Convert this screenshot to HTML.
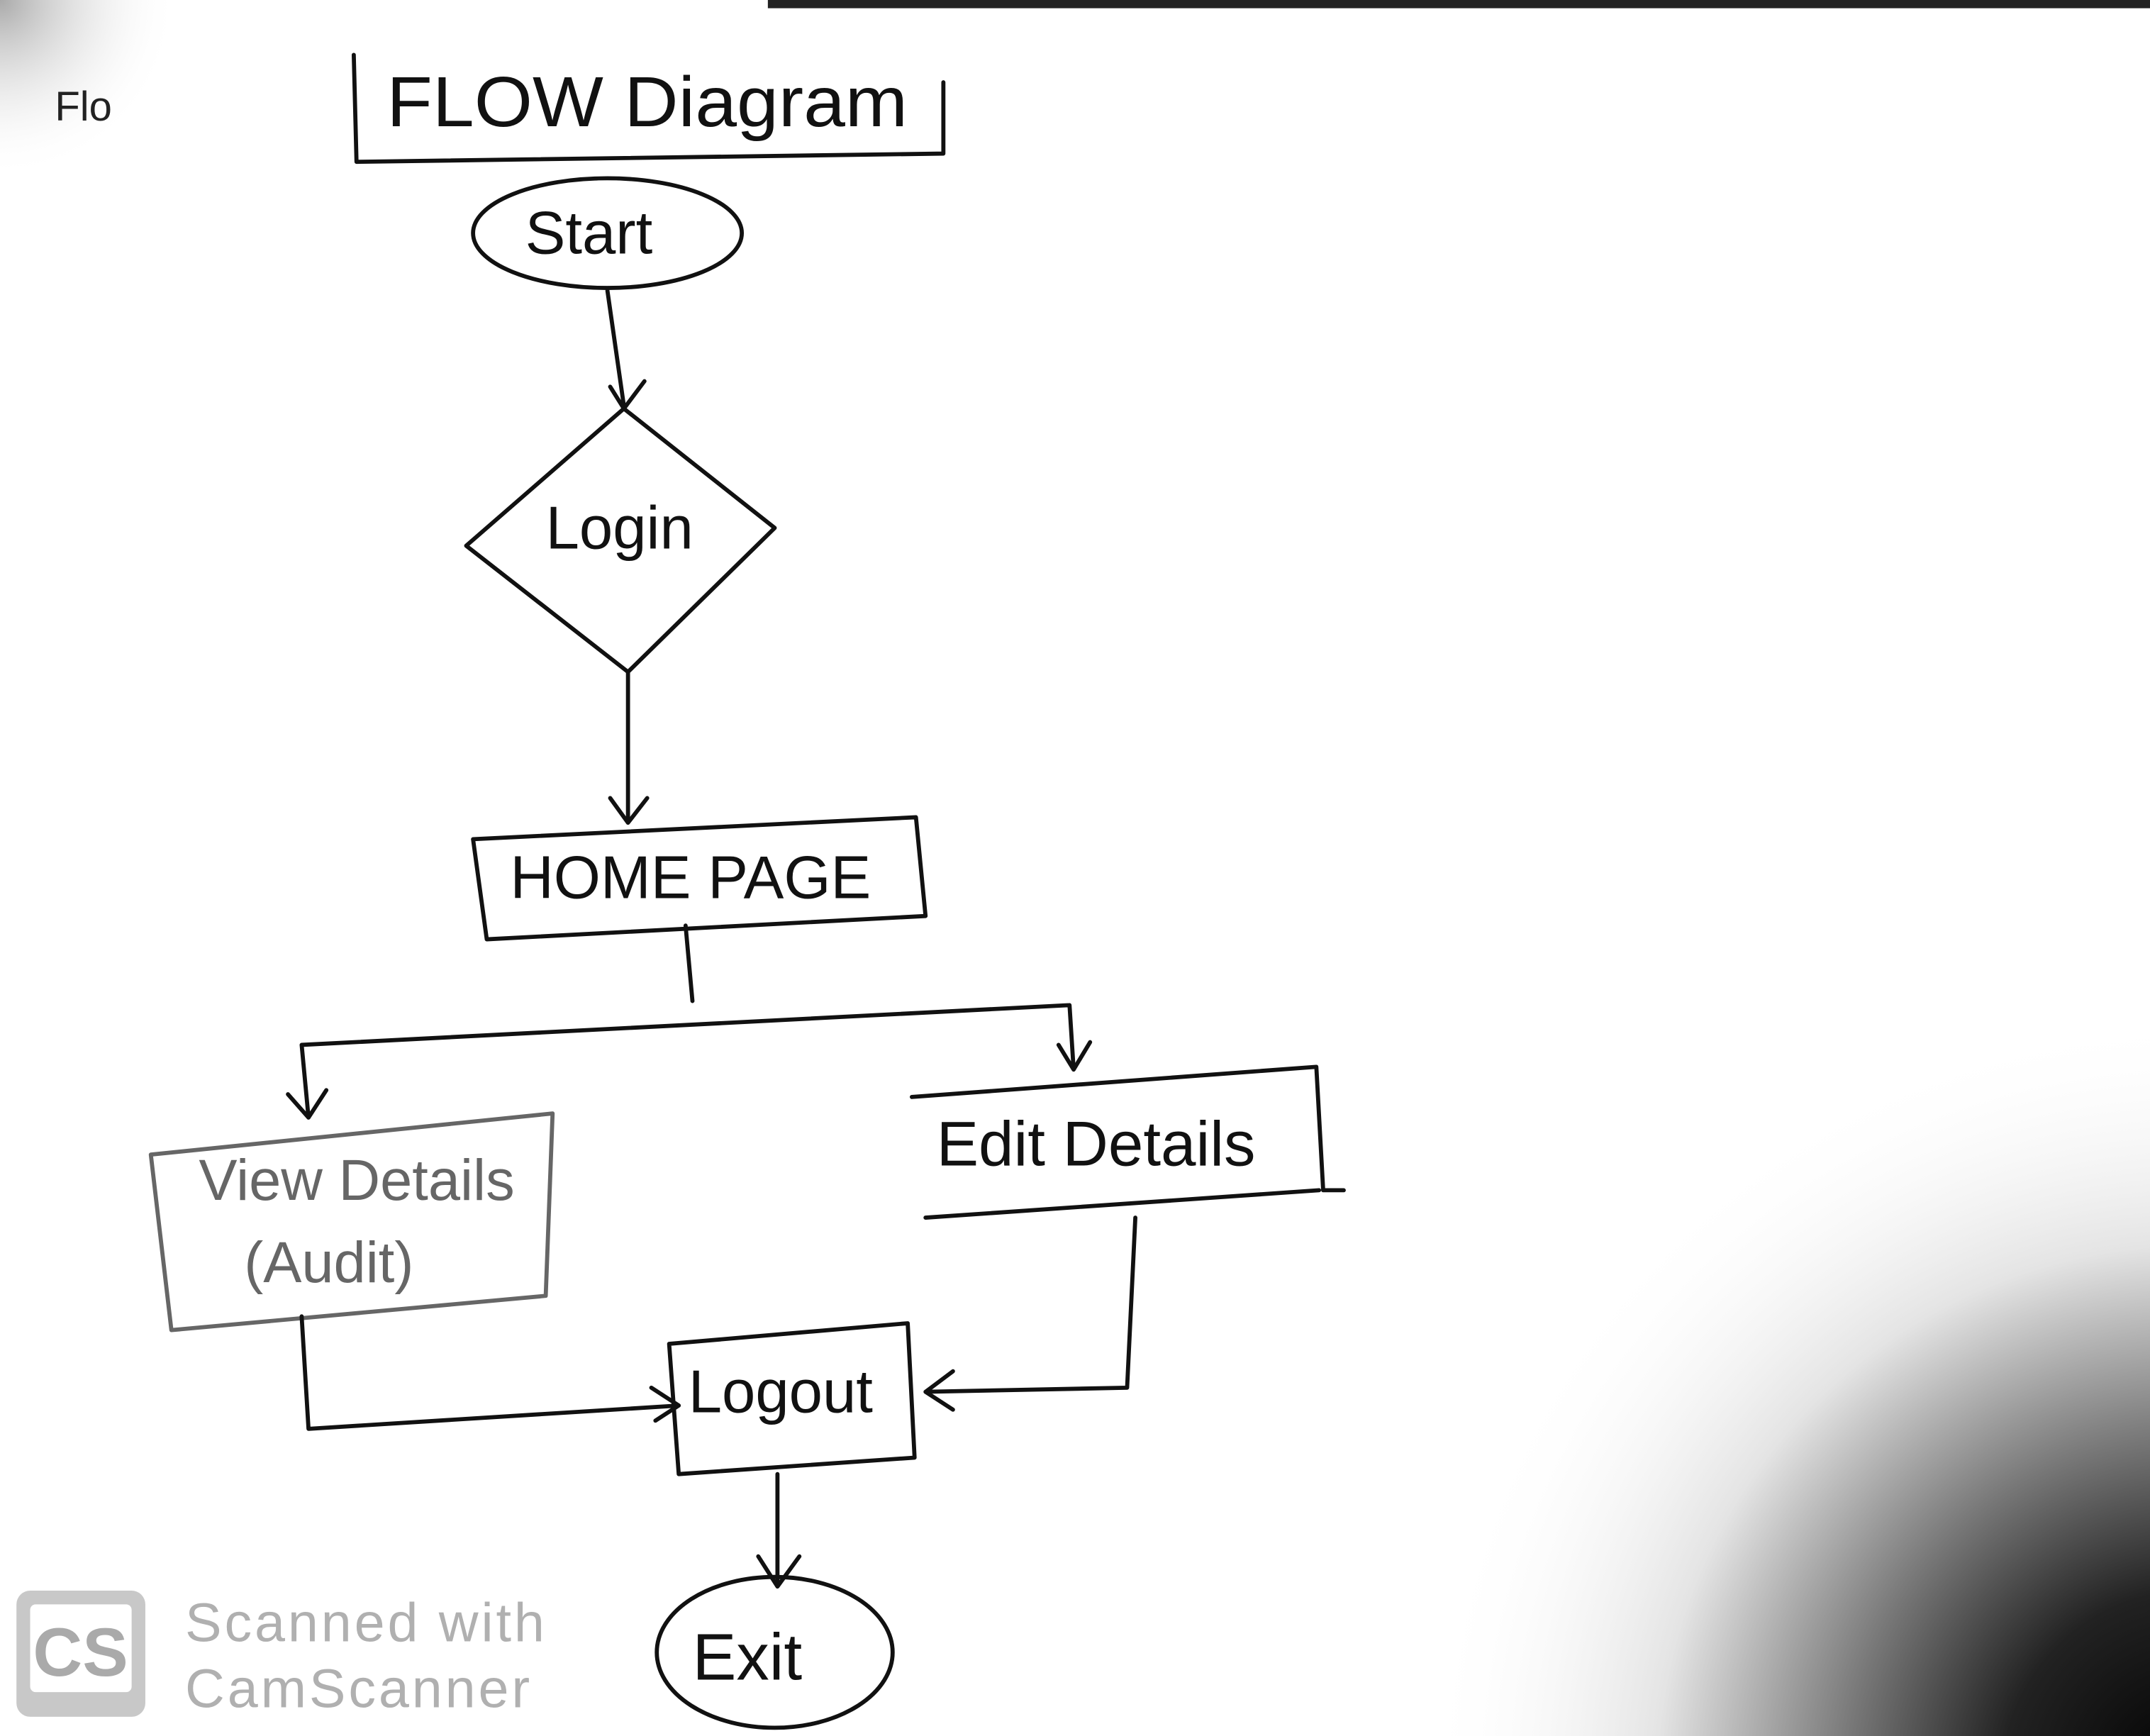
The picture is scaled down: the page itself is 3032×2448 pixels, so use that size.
<!DOCTYPE html>
<html><head><meta charset="utf-8"><style>
html,body{margin:0;padding:0;background:#fff;}
svg{display:block;}
text{font-family:"Liberation Sans",sans-serif;}
</style></head><body>
<svg width="3032" height="2448" viewBox="0 0 1568 1266" preserveAspectRatio="none" xmlns="http://www.w3.org/2000/svg">
<defs>
<radialGradient id="g" cx="1600" cy="1300" r="560" gradientUnits="userSpaceOnUse">
<stop offset="0" stop-color="#000"/>
<stop offset="0.25" stop-color="#222"/>
<stop offset="0.45" stop-color="#777"/>
<stop offset="0.7" stop-color="#e4e4e4"/>
<stop offset="1" stop-color="#fff" stop-opacity="0"/>
</radialGradient>
<radialGradient id="tl" cx="0" cy="0" r="130" gradientUnits="userSpaceOnUse">
<stop offset="0" stop-color="#aaa"/><stop offset="1" stop-color="#fff" stop-opacity="0"/>
</radialGradient>
</defs>
<rect width="1568" height="1266" fill="#fff"/>
<rect x="900" y="700" width="668" height="566" fill="url(#g)"/>
<rect x="0" y="0" width="140" height="130" fill="url(#tl)"/>
<rect x="560" y="0" width="1008" height="6" fill="#222"/>
<g fill="none" stroke="#111" stroke-width="3" stroke-linecap="round" stroke-linejoin="round">
<path d="M258 40 L260 118 L688 112 L688 60"/>
<ellipse cx="443" cy="170" rx="98" ry="40"/>
<path d="M443 212 L455 296 M445 282 L455 298 L470 278"/>
<path d="M455 298 L565 385 L458 490 L340 398 Z"/>
<path d="M458 490 L458 600 M445 582 L458 600 L472 582"/>
<path d="M345 612 L668 596 L675 668 L355 685 Z"/>
<path d="M500 675 L505 730 M220 762 L780 733 M220 762 L225 815 M210 798 L225 815 L238 795 M780 733 L783 780 M772 762 L783 780 L795 760"/>
<path d="M110 842 L403 812 L398 945 L125 970 Z" stroke="#666"/>
<path d="M665 800 L960 778 L965 868 L980 868 M962 868 L675 888 Z"/>
<path d="M488 980 L662 965 L667 1063 L495 1075 Z"/>
<path d="M220 960 L225 1042 L495 1025 M475 1012 L495 1025 L478 1036"/>
<path d="M828 888 L822 1012 L675 1015 M695 1000 L675 1015 L695 1028"/>
<path d="M567 1075 L567 1155 M553 1135 L567 1157 L583 1135"/>
<ellipse cx="565" cy="1205" rx="86" ry="55"/>
</g>
<text x="40" y="88" font-size="30" fill="#222">Flo</text>
<text x="282" y="92" font-size="52" fill="#111" textLength="380" lengthAdjust="spacingAndGlyphs">FLOW Diagram</text>
<text x="383" y="185" font-size="44" fill="#111">Start</text>
<text x="398" y="400" font-size="44" fill="#111">Login</text>
<text x="372" y="655" font-size="44" fill="#111">HOME PAGE</text>
<text x="145" y="875" font-size="42" fill="#666">View Details</text>
<text x="178" y="935" font-size="42" fill="#666">(Audit)</text>
<text x="683" y="850" font-size="46" fill="#111">Edit Details</text>
<text x="502" y="1030" font-size="44" fill="#111">Logout</text>
<text x="505" y="1225" font-size="48" fill="#111">Exit</text>
<rect x="12" y="1160" width="94" height="92" rx="10" fill="#c8c8c8"/>
<rect x="22" y="1170" width="74" height="64" rx="4" fill="#fff"/>
<text x="24" y="1222" font-size="50" font-weight="bold" fill="#aaa">CS</text>
<text x="135" y="1197" font-size="40" fill="#b0b0b0" letter-spacing="2">Scanned with</text>
<text x="135" y="1245" font-size="40" fill="#b0b0b0" letter-spacing="2">CamScanner</text>
</svg>
</body></html>
